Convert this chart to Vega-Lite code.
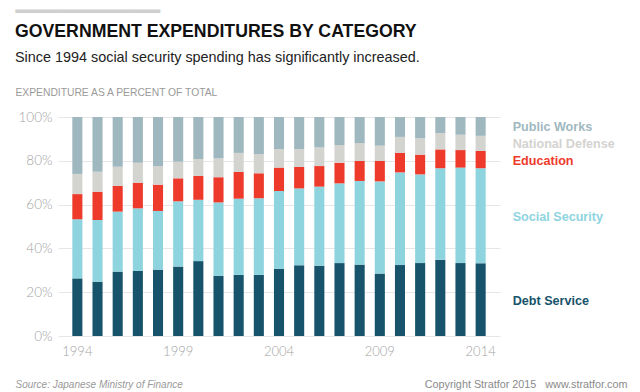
{
  "$schema": "https://vega.github.io/schema/vega-lite/v6.json",
  "width": 442,
  "height": 219,
  "autosize": {"type": "none"},
  "padding": {"left": 58, "top": 117, "right": 140, "bottom": 56},
  "background": "white",
  "config": {"view": {"stroke": null}},
  "title": {
    "text": "GOVERNMENT EXPENDITURES BY CATEGORY",
    "subtitle": "Since 1994 social security spending has significantly increased.",
    "anchor": "start",
    "frame": "group",
    "orient": "top",
    "font": "Liberation Sans",
    "fontSize": 17.7,
    "fontWeight": "bold",
    "color": "#111111",
    "subtitleFont": "Liberation Sans",
    "subtitleFontSize": 14.4,
    "subtitleColor": "#222222",
    "subtitlePadding": 10,
    "dx": -43,
    "dy": 63,
    "offset": 0
  },
  "data": {
    "values": [
      {"year": 1994, "Debt Service": 26.3, "Social Security": 27.0, "Education": 11.5, "National Defense": 9.2, "Public Works": 26.0},
      {"year": 1995, "Debt Service": 24.8, "Social Security": 28.2, "Education": 12.9, "National Defense": 9.1, "Public Works": 25.0},
      {"year": 1996, "Debt Service": 29.4, "Social Security": 27.4, "Education": 11.7, "National Defense": 8.8, "Public Works": 22.7},
      {"year": 1997, "Debt Service": 29.7, "Social Security": 28.6, "Education": 11.7, "National Defense": 9.1, "Public Works": 20.9},
      {"year": 1998, "Debt Service": 30.3, "Social Security": 26.8, "Education": 12.0, "National Defense": 8.5, "Public Works": 22.4},
      {"year": 1999, "Debt Service": 31.7, "Social Security": 29.8, "Education": 10.5, "National Defense": 7.6, "Public Works": 20.4},
      {"year": 2000, "Debt Service": 34.2, "Social Security": 28.0, "Education": 10.9, "National Defense": 7.7, "Public Works": 19.2},
      {"year": 2001, "Debt Service": 27.5, "Social Security": 33.5, "Education": 11.5, "National Defense": 8.6, "Public Works": 18.9},
      {"year": 2002, "Debt Service": 27.9, "Social Security": 34.8, "Education": 12.2, "National Defense": 8.7, "Public Works": 16.4},
      {"year": 2003, "Debt Service": 27.9, "Social Security": 35.0, "Education": 11.4, "National Defense": 8.8, "Public Works": 16.9},
      {"year": 2004, "Debt Service": 30.7, "Social Security": 35.5, "Education": 10.7, "National Defense": 8.5, "Public Works": 14.6},
      {"year": 2005, "Debt Service": 32.3, "Social Security": 35.1, "Education": 9.8, "National Defense": 8.2, "Public Works": 14.6},
      {"year": 2006, "Debt Service": 32.1, "Social Security": 36.1, "Education": 9.4, "National Defense": 8.5, "Public Works": 13.9},
      {"year": 2007, "Debt Service": 33.3, "Social Security": 36.4, "Education": 9.4, "National Defense": 8.1, "Public Works": 12.8},
      {"year": 2008, "Debt Service": 32.6, "Social Security": 38.2, "Education": 9.1, "National Defense": 8.2, "Public Works": 11.9},
      {"year": 2009, "Debt Service": 28.5, "Social Security": 42.1, "Education": 9.3, "National Defense": 7.0, "Public Works": 13.1},
      {"year": 2010, "Debt Service": 32.4, "Social Security": 42.3, "Education": 8.9, "National Defense": 7.3, "Public Works": 9.1},
      {"year": 2011, "Debt Service": 33.3, "Social Security": 40.5, "Education": 9.0, "National Defense": 7.5, "Public Works": 9.7},
      {"year": 2012, "Debt Service": 34.8, "Social Security": 41.8, "Education": 8.6, "National Defense": 7.5, "Public Works": 7.3},
      {"year": 2013, "Debt Service": 33.3, "Social Security": 43.6, "Education": 8.0, "National Defense": 7.0, "Public Works": 8.1},
      {"year": 2014, "Debt Service": 33.2, "Social Security": 43.4, "Education": 7.9, "National Defense": 6.9, "Public Works": 8.6}
    ]
  },
  "transform": [
    {"fold": ["Debt Service", "Social Security", "Education", "National Defense", "Public Works"], "as": ["category", "value"]},
    {"window": [{"op": "row_number", "as": "stackOrder"}], "groupby": ["year"]}
  ],
  "layer": [
    {
      "mark": {"type": "bar"},
      "encoding": {
        "x": {
          "field": "year",
          "type": "ordinal",
          "scale": {"paddingInner": 0.5, "paddingOuter": 0.71},
          "axis": {
            "values": [1994, 1999, 2004, 2009, 2014],
            "labelAngle": 0,
            "labelFont": "Lato",
            "labelFontSize": 13,
            "labelFontWeight": 300,
            "labelColor": "#a3a3a3",
            "labelPadding": 9,
            "ticks": false,
            "domain": false,
            "title": "Source: Japanese Ministry of Finance",
            "titleFont": "Liberation Sans",
            "titleFontStyle": "italic",
            "titleFontWeight": "normal",
            "titleFontSize": 10,
            "titleColor": "#999999",
            "titleAlign": "left",
            "titleAnchor": "start",
            "titleBaseline": "alphabetic",
            "titleX": -43,
            "titleY": 51
          }
        },
        "y": {
          "field": "value",
          "type": "quantitative",
          "stack": "normalize",
          "scale": {"domain": [0, 1]},
          "axis": {
            "values": [0, 0.2, 0.4, 0.6, 0.8, 1],
            "format": ".0%",
            "labelFont": "Lato",
            "labelFontSize": 13.5,
            "labelFontWeight": 300,
            "labelColor": "#a3a3a3",
            "labelPadding": 6,
            "ticks": false,
            "domain": false,
            "grid": true,
            "gridColor": "#e6e6e6",
            "title": "EXPENDITURE AS A PERCENT OF TOTAL",
            "titleAngle": 0,
            "titleAlign": "left",
            "titleBaseline": "alphabetic",
            "titleX": -43,
            "titleY": -22,
            "titleFont": "Liberation Sans",
            "titleFontSize": 10.3,
            "titleFontWeight": "normal",
            "titleColor": "#9a9a9a"
          }
        },
        "order": {"field": "stackOrder", "type": "quantitative", "sort": "ascending"},
        "color": {
          "field": "category",
          "type": "nominal",
          "scale": {
            "domain": ["Debt Service", "Social Security", "Education", "National Defense", "Public Works"],
            "range": ["#17536b", "#8ed4df", "#ee3a2b", "#d3d3cf", "#9fb8bf"]
          },
          "legend": null
        }
      }
    },
    {
      "transform": [{"filter": "datum.year == 2014"}],
      "mark": {"type": "text", "align": "left", "baseline": "middle", "dx": 32, "dy": 1, "font": "Liberation Sans", "fontWeight": "bold", "fontSize": 12.6},
      "encoding": {
        "x": {
          "field": "year",
          "type": "ordinal",
          "axis": {
            "orient": "top",
            "labels": false,
            "ticks": false,
            "domain": false,
            "grid": false,
            "title": "━━━━━━━━━━━━",
            "titleFont": "DejaVu Sans Mono",
            "titleFontSize": 20,
            "titleFontWeight": "normal",
            "titleColor": "#cfcfcf",
            "titleAlign": "left",
            "titleBaseline": "alphabetic",
            "titleX": -43,
            "titleY": -99.5
          }
        },
        "y": {
          "field": "value",
          "type": "quantitative",
          "stack": "normalize",
          "bandPosition": 0.5,
          "axis": {
            "orient": "right",
            "labels": false,
            "ticks": false,
            "domain": false,
            "grid": false,
            "title": "Copyright Stratfor 2015\u00a0\u00a0 www.stratfor.com",
            "titleAngle": 0,
            "titleAlign": "right",
            "titleBaseline": "alphabetic",
            "titleX": 127,
            "titleY": 270,
            "titleFont": "Liberation Sans",
            "titleFontSize": 10.8,
            "titleFontWeight": "normal",
            "titleColor": "#8a8a8a"
          }
        },
        "order": {"field": "stackOrder", "type": "quantitative", "sort": "ascending"},
        "text": {"field": "category"},
        "color": {
          "field": "category",
          "type": "nominal",
          "legend": null
        }
      }
    }
  ],
  "resolve": {"axis": {"x": "independent", "y": "independent"}}
}
